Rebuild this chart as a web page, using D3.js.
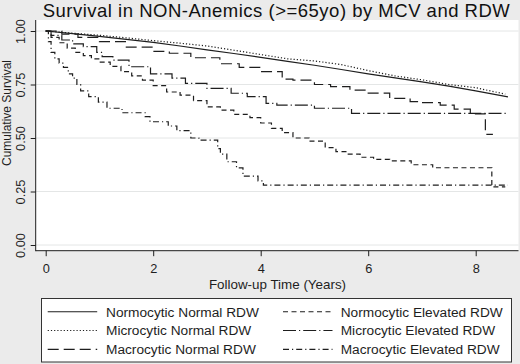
<!DOCTYPE html>
<html>
<head>
<meta charset="utf-8">
<script src="https://cdn.jsdelivr.net/npm/d3@7"></script>
<style>
  html, body { margin: 0; padding: 0; background: #ebebeb; }
  svg { display: block; font-family: "Liberation Sans", Arial, sans-serif; }
</style>
</head>
<body>
<svg id="chart" width="520" height="364"></svg>
<script>
// ---------- data ----------
const seriesNames = [
  "Normocytic Normal RDW", "Normocytic Elevated RDW",
  "Microcytic Normal RDW", "Microcytic Elevated RDW",
  "Macrocytic Normal RDW", "Macrocytic Elevated RDW"
];
const yTicks = [0, 0.25, 0.5, 0.75, 1];
const xTicks = [0, 2, 4, 6, 8];

const tNormoNormal = [0,0.5,1,1.5,2,2.5,3,3.5,4,4.5,5,5.5,6,6.5,7,7.5,8,8.6];
const sNormoNormal = [1,0.988,0.975,0.961,0.947,0.93,0.912,0.895,0.877,0.858,0.84,0.82,0.80,0.781,0.762,0.742,0.72,0.692];

const tMicroNormal = [0,0.5,1,1.5,2,2.5,3,3.5,4,4.5,5,5.5,6,6.5,7,7.5,8,8.55];
const sMicroNormal = [1,0.99,0.98,0.968,0.955,0.943,0.93,0.91,0.89,0.87,0.86,0.843,0.815,0.79,0.772,0.75,0.735,0.705];

const tMacroNormal = [0,0.3,0.6,1.0,1.5,2.0,2.3,2.7,3.24,3.6,4.0,4.4,4.6,5.0,5.3,5.66,6.0,6.4,6.78,7.0,7.34,7.6,7.9,8.18,8.32];
const sMacroNormal = [1,0.985,0.97,0.95,0.925,0.905,0.896,0.875,0.847,0.83,0.81,0.775,0.77,0.75,0.74,0.724,0.71,0.685,0.67,0.665,0.654,0.635,0.613,0.517,0.517];

const tNormoElev = [0,0.1,0.25,0.4,0.55,0.7,0.85,1.0,1.2,1.4,1.6,1.8,2.0,2.25,2.5,2.75,3.0,3.25,3.5,3.8,4.0,4.2,4.4,4.6,4.9,5.2,5.4,5.6,5.85,6.1,6.4,6.8,7.2,8.3,8.55];
const sNormoElev = [1,0.97,0.945,0.92,0.9,0.885,0.87,0.855,0.835,0.81,0.79,0.77,0.745,0.715,0.7,0.675,0.645,0.63,0.61,0.595,0.57,0.545,0.525,0.5,0.485,0.455,0.436,0.425,0.41,0.4,0.393,0.375,0.361,0.272,0.272];

const tMicroElev = [0,0.1,0.3,0.5,0.7,0.95,1.05,1.25,1.55,1.95,2.35,2.6,3.0,3.45,3.75,4.1,4.3,5.0,5.69,8.58];
const sMicroElev = [1,0.98,0.958,0.94,0.927,0.9,0.88,0.864,0.833,0.80,0.78,0.755,0.732,0.709,0.693,0.662,0.654,0.639,0.615,0.615];

const tMacroElev = [0,0.05,0.1,0.17,0.25,0.33,0.42,0.5,0.58,0.65,0.8,0.98,1.14,1.42,1.85,1.94,2.28,2.44,2.7,2.85,3.2,3.25,3.37,3.55,3.67,3.95,4.05,8.6];
const sMacroElev = [1,0.95,0.9,0.87,0.85,0.83,0.8,0.78,0.75,0.72,0.693,0.668,0.639,0.618,0.6,0.576,0.556,0.534,0.5,0.49,0.45,0.425,0.389,0.36,0.322,0.3,0.28,0.28];

// ---------- styles ----------
const seriesTimes = [tNormoNormal, tNormoElev, tMicroNormal, tMicroElev, tMacroNormal, tMacroElev];
const seriesSurv  = [sNormoNormal, sNormoElev, sMicroNormal, sMicroElev, sMacroNormal, sMacroElev];
const dashes = ["none", "5,3.5", "1.2,2", "13,3,1.2,3", "11,5", "6,3,1.2,3"];
const curves = [d3.curveLinear, d3.curveStepAfter, d3.curveLinear, d3.curveStepAfter, d3.curveStepAfter, d3.curveStepAfter];

// ---------- layout ----------
const svg = d3.select("#chart");
const plotL = 35.7, plotR = 518.5, plotT = 20, plotB = 250.7;
const x = d3.scaleLinear().domain([0, 8]).range([45.7, 475.7]);
const y = d3.scaleLinear().domain([0, 1]).range([245, 31]);
const ink = "#1e1e1e";

// plot region
svg.append("rect").attr("x", plotL).attr("y", plotT)
  .attr("width", plotR - plotL).attr("height", plotB - plotT).attr("fill", "#ffffff");

// grid
svg.append("g").selectAll("line").data(yTicks).join("line")
  .attr("x1", plotL).attr("x2", plotR)
  .attr("y1", d => y(d)).attr("y2", d => y(d))
  .attr("stroke", "#e4e6e6").attr("stroke-width", 1);

// curves
const g = svg.append("g");
seriesNames.forEach((name, i) => {
  const pts = seriesTimes[i].map((t, j) => [t, seriesSurv[i][j]]);
  const line = d3.line().x(d => x(d[0])).y(d => y(d[1])).curve(curves[i]);
  g.append("path").attr("d", line(pts))
    .attr("fill", "none").attr("stroke", ink).attr("stroke-width", 1.2)
    .attr("stroke-dasharray", dashes[i]);
});

// y axis
const yAxis = svg.append("g").attr("transform", `translate(${plotL},0)`)
  .call(d3.axisLeft(y).tickValues(yTicks).tickFormat(d3.format(".2f")).tickSize(5).tickSizeOuter(0));
yAxis.select(".domain").remove();
yAxis.selectAll(".tick line").attr("stroke", ink);
yAxis.selectAll(".tick text")
  .attr("transform", "rotate(-90)")
  .attr("x", 0).attr("y", -10.7).attr("dy", 0)
  .attr("text-anchor", "middle")
  .attr("fill", ink).style("font-size", "12.8px").style("font-family", "Liberation Sans, Arial, sans-serif");
svg.append("line").attr("x1", plotL).attr("x2", plotL).attr("y1", plotT).attr("y2", plotB + 0.5)
  .attr("stroke", ink).attr("stroke-width", 1);

// x axis
const xAxis = svg.append("g").attr("transform", `translate(0,${plotB})`)
  .call(d3.axisBottom(x).tickValues(xTicks).tickFormat(d3.format("d")).tickSize(5.5).tickSizeOuter(0));
xAxis.select(".domain").remove();
xAxis.selectAll(".tick line").attr("stroke", ink);
xAxis.selectAll(".tick text")
  .attr("y", 22.8).attr("dy", 0)
  .attr("fill", ink).style("font-size", "12.8px").style("font-family", "Liberation Sans, Arial, sans-serif");
svg.append("line").attr("x1", plotL).attr("x2", plotR).attr("y1", plotB).attr("y2", plotB)
  .attr("stroke", ink).attr("stroke-width", 1);

// axis titles
svg.append("text").attr("x", 277.5).attr("y", 288.6).attr("text-anchor", "middle")
  .attr("fill", ink).style("font-size", "13.4px").text("Follow-up Time (Years)");
svg.append("text").attr("transform", "translate(10.5,113) rotate(-90)").attr("text-anchor", "middle")
  .attr("fill", ink).style("font-size", "12px").text("Cumulative Survival");

// title
svg.append("text").attr("x", 276.5).attr("y", 16.8).attr("text-anchor", "middle")
  .attr("fill", "#111").style("font-size", "18.5px").style("letter-spacing", "0.5px")
  .text("Survival in NON-Anemics (>=65yo) by MCV and RDW");

// legend
const lg = svg.append("g");
lg.append("rect").attr("x", 41.5).attr("y", 298.5).attr("width", 470).attr("height", 63.5)
  .attr("fill", "#ffffff").attr("stroke", "#333").attr("stroke-width", 1);
const colLineX = [47.7, 283];
const colTextX = [106, 340.7];
const rowY = [311.7, 330.5, 349.3];
seriesNames.forEach((name, i) => {
  const c = i % 2, r = Math.floor(i / 2);
  lg.append("line").attr("x1", colLineX[c]).attr("x2", colLineX[c] + 49.5)
    .attr("y1", rowY[r]).attr("y2", rowY[r])
    .attr("stroke", ink).attr("stroke-width", 1.15).attr("stroke-dasharray", dashes[i]);
  lg.append("text").attr("x", colTextX[c]).attr("y", rowY[r]).attr("dy", "0.36em")
    .attr("fill", ink).style("font-size", "13.7px").text(name);
});
</script>
</body>
</html>
